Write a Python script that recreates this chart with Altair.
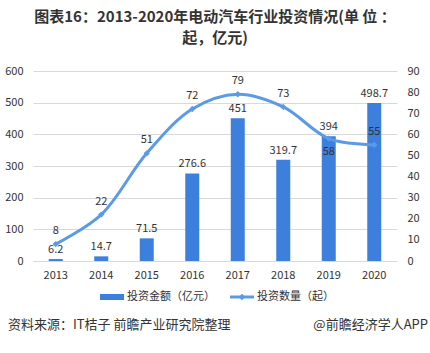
import altair as alt
import pandas as pd

years = ["2013", "2014", "2015", "2016", "2017", "2018", "2019", "2020"]
amount = [6.2, 14.7, 71.5, 276.6, 451, 319.7, 394, 498.7]
count = [8, 22, 51, 72, 79, 73, 58, 55]
amount_ticks = [0, 100, 200, 300, 400, 500, 600]
count_ticks = [0, 10, 20, 30, 40, 50, 60, 70, 80, 90]
legend_labels = ["投资金额（亿元）", "投资数量（起）"]
title_lines = ["图表16：2013-2020年电动汽车行业投资情况(单 位 ：", "起，亿元)"]
source_text = "资料来源：IT桔子 前瞻产业研究院整理"
brand_text = "@前瞻经济学人APP"

df = pd.DataFrame({"year": years, "amount": amount, "count": count})

FONT = "Noto Sans CJK SC"
BAR_C = "#3c7fdc"
LINE_C = "#5b9ae6"
TXT = "#333333"

W, H = 364, 190

x = alt.X("year:N", sort=years, title=None,
          scale=alt.Scale(paddingInner=0.7, paddingOuter=0.35),
          axis=alt.Axis(labelAngle=0, ticks=False, domain=True, domainColor="#d9d9d9",
                        labelFont=FONT, labelFontSize=11, labelColor=TXT, labelPadding=8))

yL = alt.Y("amount:Q", title=None,
           scale=alt.Scale(domain=[0, 600]),
           axis=alt.Axis(values=amount_ticks, domain=False, ticks=False, grid=True,
                         gridColor="#d9d9d9", labelFont=FONT, labelFontSize=11,
                         labelColor=TXT, labelPadding=10))
yR = alt.Y("count:Q", title=None,
           scale=alt.Scale(domain=[0, 90]),
           axis=alt.Axis(orient="right", values=count_ticks, domain=False, ticks=False,
                         grid=False, labelFont=FONT, labelFontSize=11,
                         labelColor=TXT, labelPadding=10))

base = alt.Chart(df)

bars = base.mark_bar(color=BAR_C, size=14).encode(x=x, y=yL)
bar_text = base.mark_text(dy=-9, font=FONT, fontSize=11, color=TXT).encode(
    x=x, y=yL, text=alt.Text("amount:Q", format="~g"))
left = alt.layer(bars, bar_text)

line = base.mark_line(color=LINE_C, strokeWidth=3, interpolate="catmull-rom").encode(x=x, y=yR)
pts = base.mark_point(shape="diamond", filled=True, size=40, color=LINE_C, opacity=1).encode(x=x, y=yR)
cnt_above = base.transform_filter(alt.datum.year != "2019").mark_text(
    dy=-13, font=FONT, fontSize=11, color=TXT).encode(x=x, y=yR, text="count:Q")
cnt_below = base.transform_filter(alt.datum.year == "2019").mark_text(
    dy=13, font=FONT, fontSize=11, color=TXT).encode(x=x, y=yR, text="count:Q")
right = alt.layer(line, pts, cnt_above, cnt_below)

# legend and footer
one = alt.Chart(pd.DataFrame({"k": [0]}))
leg_bar = one.mark_rect(color=BAR_C).encode(
    x=alt.value(67), x2=alt.value(91), y=alt.value(223), y2=alt.value(229))
leg_line = one.mark_rule(color=LINE_C, strokeWidth=3).encode(
    x=alt.value(197), x2=alt.value(221), y=alt.value(226))
leg_pt = one.mark_point(shape="diamond", filled=True, size=40, color=LINE_C, opacity=1).encode(
    x=alt.value(209), y=alt.value(226))
leg_t1 = one.mark_text(align="left", baseline="middle", font=FONT, fontSize=11, color=TXT,
                       text=legend_labels[0]).encode(x=alt.value(94), y=alt.value(226))
leg_t2 = one.mark_text(align="left", baseline="middle", font=FONT, fontSize=11, color=TXT,
                       text=legend_labels[1]).encode(x=alt.value(224), y=alt.value(226))
src = one.mark_text(align="left", baseline="middle", font=FONT, fontSize=13, color=TXT,
                    text=source_text).encode(x=alt.value(-25), y=alt.value(254))
brand = one.mark_text(align="right", baseline="middle", font=FONT, fontSize=13, color=TXT,
                      text=brand_text).encode(x=alt.value(395), y=alt.value(254))

main = alt.layer(left, right).resolve_scale(y="independent")

chart = alt.layer(main, leg_bar, leg_line, leg_pt, leg_t1, leg_t2, src, brand).properties(
    width=W, height=H,
    padding={"left": 33, "top": 71, "right": 33, "bottom": 92},
    autosize=alt.AutoSizeParams(type="none"),
    title=alt.TitleParams(title_lines, font=FONT, fontSize=15, fontWeight="bold",
                          color=TXT, anchor="middle", lineHeight=21, offset=19),
).configure_view(stroke=None)

chart.save("out.html", embed_options={"renderer": "svg", "actions": False})
